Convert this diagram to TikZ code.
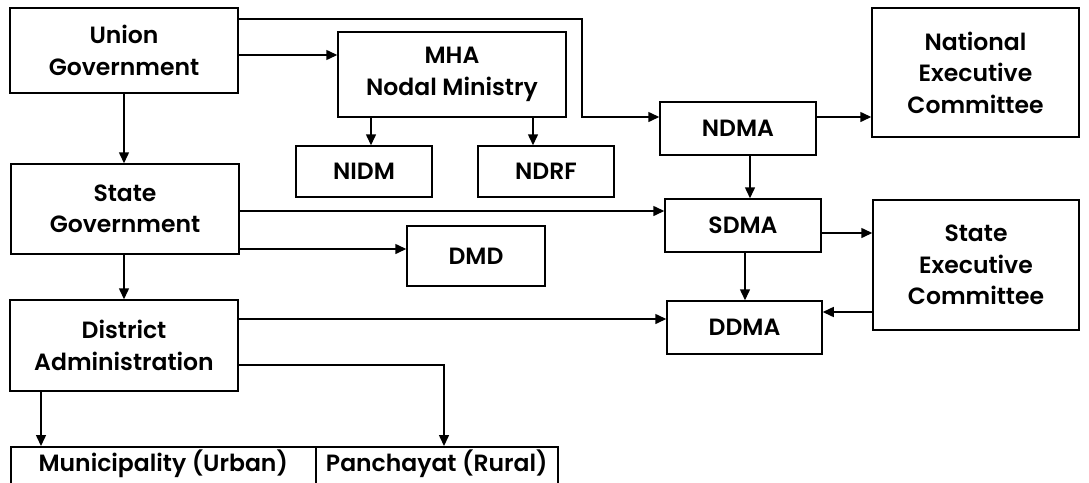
\documentclass[tikz,border=0pt]{standalone}
\usepackage{fontspec}
\setmainfont{Poppins SemiBold}
\usetikzlibrary{arrows.meta}
\begin{document}
\begin{tikzpicture}[x=1pt,y=-1pt,
  box/.style={draw, line width=1.5pt, align=center, inner sep=0pt, font=\fontsize{23.5}{31.5}\selectfont},
  arr/.style={line width=1.5pt, -{Triangle[length=11pt,width=10pt]}}]
\useasboundingbox (0,0) rectangle (1089,482);
\clip (0,0) rectangle (1089,482);
\fill[white] (0,0) rectangle (1089,482);
\node[box, minimum width=228pt, minimum height=85pt] (union) at (124,50.5) {Union\\Government};
\node[box, minimum width=228pt, minimum height=85pt] (mha) at (452,74.5) {MHA\\Nodal Ministry};
\node[box, minimum width=136pt, minimum height=51pt] (nidm) at (364,171.5) {NIDM};
\node[box, minimum width=136pt, minimum height=51pt] (ndrf) at (546,171.5) {NDRF};
\node[box, minimum width=156pt, minimum height=53pt] (ndma) at (738,128.5) {NDMA};
\node[box, minimum width=207pt, minimum height=129pt] (nec) at (975.5,72.5) {National\\Executive\\Committee};
\node[box, minimum width=228pt, minimum height=90pt] (state) at (125,209) {State\\Government};
\node[box, minimum width=138pt, minimum height=60pt] (dmd) at (476,256) {DMD};
\node[box, minimum width=228pt, minimum height=91pt] (district) at (124,345.5) {District\\Administration};
\node[box, minimum width=156pt, minimum height=53pt] (sdma) at (743,225.5) {SDMA};
\node[box, minimum width=155pt, minimum height=53pt] (ddma) at (744.5,327.5) {DDMA};
\node[box, minimum width=206pt, minimum height=130pt] (sec) at (976,265) {State\\Executive\\Committee};
\node[box, anchor=north west, minimum width=305pt, text height=25pt, text depth=50pt] (muni) at (10,446) {Municipality (Urban)};
\node[box, anchor=north west, minimum width=242pt, text height=25pt, text depth=50pt] (panch) at (315,446) {Panchayat (Rural)};
% connectors
\draw[arr] (union.east |- 0,55) -- (mha.west |- 0,55);
\draw[arr] (union.east |- 0,19) -| (582,117) -- (ndma.west |- 0,117);
\draw[arr] (union.south -| 124,0) -- (state.north -| 124,0);
\draw[arr] (mha.south -| 371,0) -- (nidm.north -| 371,0);
\draw[arr] (mha.south -| 533,0) -- (ndrf.north -| 533,0);
\draw[arr] (ndma.south -| 750,0) -- (sdma.north -| 750,0);
\draw[arr] (ndma.east |- 0,117) -- (nec.west |- 0,117);
\draw[arr] (state.east |- 0,211) -- (sdma.west |- 0,211);
\draw[arr] (state.east |- 0,249) -- (dmd.west |- 0,249);
\draw[arr] (state.south -| 124,0) -- (district.north -| 124,0);
\draw[arr] (district.east |- 0,319) -- (ddma.west |- 0,319);
\draw[arr] (district.east |- 0,365) -| (panch.north -| 444,0);
\draw[arr] (district.south -| 41,0) -- (muni.north -| 41,0);
\draw[arr] (sdma.south -| 745,0) -- (ddma.north -| 745,0);
\draw[arr] (sdma.east |- 0,233) -- (sec.west |- 0,233);
\draw[arr] (sec.west |- 0,312) -- (ddma.east |- 0,312);
\end{tikzpicture}
\end{document}
